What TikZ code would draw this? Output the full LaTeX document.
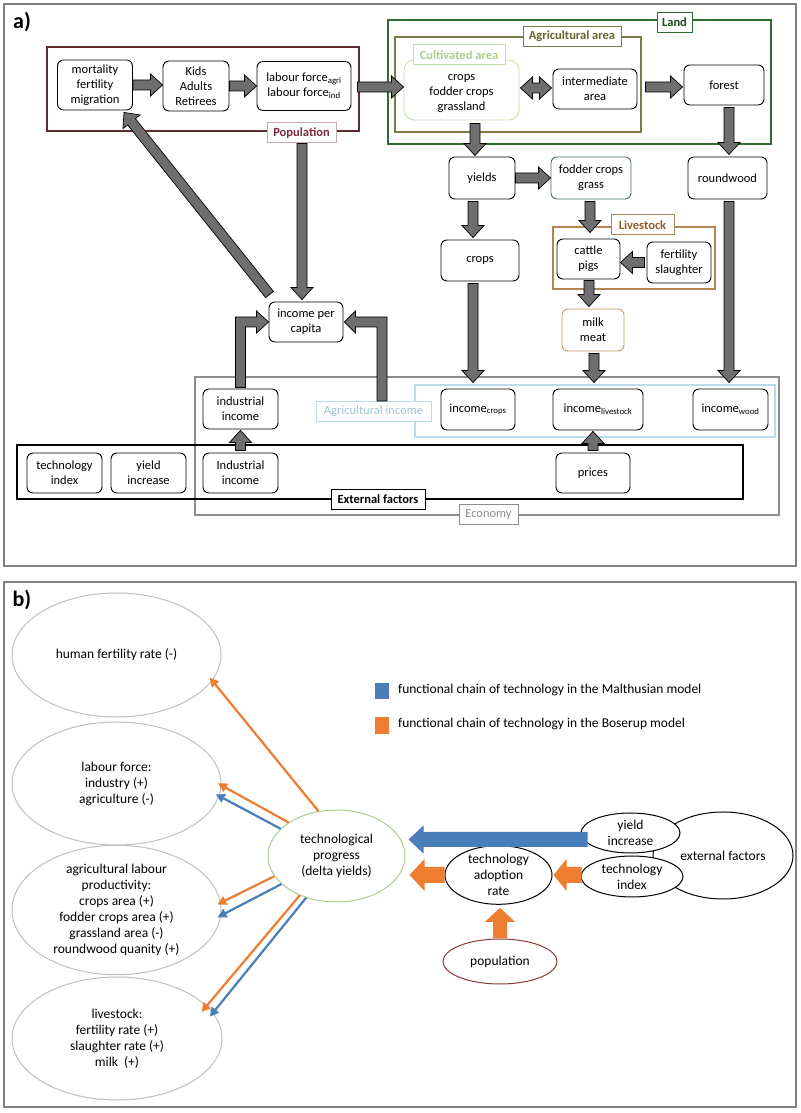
\documentclass[tikz,border=0pt]{standalone}
\usepackage{fontspec}
\setmainfont{Carlito}
\usetikzlibrary{calc,arrows.meta,shapes.geometric}
\definecolor{arrgray}{HTML}{6E6E6E}
\definecolor{panelc}{HTML}{808080}
\definecolor{popc}{HTML}{5E2B2E}
\definecolor{poplc}{HTML}{C9A9AA}
\definecolor{poptc}{HTML}{7A2E3A}
\definecolor{landc}{HTML}{2E6B2E}
\definecolor{landtc}{HTML}{1E4A1E}
\definecolor{agrc}{HTML}{7B7A48}
\definecolor{agrtc}{HTML}{66652E}
\definecolor{cultc}{HTML}{C6DFAE}
\definecolor{culttc}{HTML}{A9D08E}
\definecolor{fodc}{HTML}{4C7355}
\definecolor{livc}{HTML}{B58455}
\definecolor{livtc}{HTML}{97592A}
\definecolor{milkc}{HTML}{C49A6C}
\definecolor{ecoc}{HTML}{8C8C8C}
\definecolor{aic}{HTML}{B8DCE8}
\definecolor{aitc}{HTML}{9CC4D6}
\definecolor{ellgray}{HTML}{C0C0C0}
\definecolor{tpc}{HTML}{A9CF8C}
\definecolor{bluec}{HTML}{4A7EBB}
\definecolor{orc}{HTML}{ED7D31}
\definecolor{popbc}{HTML}{8E3B3B}

\newcommand\blockarr[6]{%
  \pgfmathsetmacro{\arrhd}{#5-#4}%
  \path[#1] let \p1=#2, \p2=#3,
    \n1={atan2(\y2-\y1,\x2-\x1)},
    \n2={veclen(\x2-\x1,\y2-\y1)-#6}
  in ($(\p1)+(\n1+90:#4pt)$) -- ++(\n1:\n2) -- ++(\n1+90:\arrhd pt) -- (\p2)
     -- ($(\p1)+(\n1:\n2)+(\n1-90:#5pt)$) -- ++(\n1+90:\arrhd pt)
     -- ($(\p1)+(\n1-90:#4pt)$) -- cycle;}
\newcommand\blockdarr[6]{%
  \pgfmathsetmacro{\arrhd}{#5-#4}%
  \path[#1] let \p1=#2, \p2=#3,
    \n1={atan2(\y2-\y1,\x2-\x1)},
    \n2={veclen(\x2-\x1,\y2-\y1)-2*#6}
  in (\p1) -- ($(\p1)+(\n1:#6pt)+(\n1+90:#5pt)$) -- ++(\n1-90:\arrhd pt) -- ++(\n1:\n2)
     -- ++(\n1+90:\arrhd pt) -- (\p2)
     -- ($(\p2)+(\n1+180:#6pt)+(\n1-90:#5pt)$) -- ++(\n1+90:\arrhd pt) -- ++(\n1+180:\n2)
     -- ++(\n1-90:\arrhd pt) -- cycle;}
\newcommand\fatarr[2]{\blockarr{fat}{#1}{#2}{5}{11}{12}}

\tikzset{
  x=1pt, y=1pt,
  box/.style={draw=black, line width=0.9pt, rounded corners=6pt, fill=white, align=center,
    inner sep=0pt, font=\fontsize{12.5}{15}\selectfont},
  grp/.style={line width=1.1pt},
  lab/.style={draw, fill=white, line width=1pt, inner sep=2pt, minimum height=20pt,
    font=\fontsize{12.5}{14}\selectfont\bfseries},
  labn/.style={draw, fill=white, line width=1pt, inner sep=2pt, minimum height=20pt,
    font=\fontsize{12.5}{14}\selectfont},
  fat/.style={fill=arrgray, draw=black, line width=0.7pt, line join=miter},
  ell/.style={ellipse, draw=ellgray, line width=1pt, fill=white, align=center, inner sep=0pt,
    font=\fontsize{13.5}{16}\selectfont},
  ellb/.style={ell, draw=black},
  tharr/.style={line width=2.2pt, -{Triangle[length=9pt,width=9pt]}, shorten >=-4pt},
  panel/.style={draw=panelc, line width=1.2pt},
}

\begin{document}
\begin{tikzpicture}
\useasboundingbox[fill=white] (0,0) rectangle (800,1113);

% ================= panel a =================
\draw[panel] (4,1109) rectangle (796,547);
\node[font=\fontsize{22}{22}\selectfont\bfseries] (la) at (22,1091) {a)};

% groups
\draw[grp, draw=popc] (47,1066) rectangle (359,982);
\draw[draw=landc, line width=1.3pt] (388,1093) rectangle (771,969);
\draw[grp, draw=agrc] (395,1076) rectangle (641,981);
\draw[grp, draw=livc] (553,886) rectangle (715,824);
\draw[grp, draw=ecoc] (195,736) rectangle (779,598);
\draw[grp, draw=aic] (415,728) rectangle (775,676);
\draw[grp, draw=black] (17,668) rectangle (743,614);

% nodes
\node[box, minimum width=75pt, minimum height=50pt] (mort) at (95,1028) {mortality\\fertility\\migration};
\node[box, minimum width=66pt, minimum height=50pt] (kids) at (196,1027) {Kids\\Adults\\Retirees};
\node[box, minimum width=94pt, minimum height=49pt] (lab) at (304,1027) {labour force\textsubscript{agri}\\labour force\textsubscript{ind}};
\node[box, draw=cultc, rounded corners=10pt, minimum width=115pt, minimum height=60pt] (cult) at (461.5,1023) {};
\node[align=center, inner sep=0pt, font=\fontsize{12.5}{15}\selectfont] (culttext) at ($(cult.center)+(0,-4)$) {crops\\fodder crops\\grassland};
\node[box, minimum width=84pt, minimum height=40pt] (inter) at (595,1024) {intermediate\\area};
\node[box, minimum width=80pt, minimum height=40pt] (forest) at (724,1028) {forest};
\node[box, minimum width=66pt, minimum height=42pt] (yields) at (482,935) {yields};
\node[box, draw=fodc, minimum width=80pt, minimum height=42pt] (fodder) at (591,935) {fodder crops\\grass};
\node[box, minimum width=79pt, minimum height=42pt] (roundwood) at (727.5,935) {roundwood};
\node[box, minimum width=78pt, minimum height=41pt] (crops) at (480,852.5) {crops};
\node[box, minimum width=63pt, minimum height=40pt] (cattle) at (588.5,854) {cattle\\pigs};
\node[box, minimum width=64pt, minimum height=41pt] (fert) at (679,850.5) {fertility\\slaughter};
\node[box, draw=milkc, minimum width=62pt, minimum height=42pt] (milk) at (593,783) {milk\\meat};
\node[box, minimum width=74pt, minimum height=40pt] (ipc) at (306,791) {income per\\capita};
\node[box, minimum width=75pt, minimum height=40pt] (indtop) at (240.5,704) {industrial\\income};
\node[box, minimum width=74pt, minimum height=41pt] (inccrops) at (478,703.5) {income\textsubscript{crops}};
\node[box, minimum width=90pt, minimum height=41pt] (inclive) at (598,703.5) {income\textsubscript{livestock}};
\node[box, minimum width=75pt, minimum height=41pt] (incwood) at (730.5,703.5) {income\textsubscript{wood}};
\node[box, minimum width=75pt, minimum height=40pt] (techidx) at (64.5,640) {technology\\index};
\node[box, minimum width=75pt, minimum height=40pt] (yieldinc) at (148.5,640) {yield\\increase};
\node[box, minimum width=75pt, minimum height=40pt] (indbot) at (240.5,640) {Industrial\\income};
\node[box, minimum width=74pt, minimum height=40pt] (prices) at (593,640) {prices};

% group labels
\node[lab, draw=poplc, text=poptc, minimum width=69pt] (poplab) at (301.5,980) {Population};
\node[lab, draw=landc, text=landtc, minimum width=35pt] (landlab) at (674.5,1090.5) {Land};
\node[lab, draw=agrc, text=agrtc, minimum width=98pt] (agrlab) at (572,1076.5) {Agricultural area};
\node[lab, draw=cultc, text=culttc, minimum width=92pt] (cultlab) at (459,1058) {Cultivated area};
\node[lab, draw=livc, text=livtc, minimum width=63pt] (livlab) at (642.5,888) {Livestock};
\node[labn, draw=ecoc, text=ecoc, minimum width=59pt] (ecolab) at (488.5,598) {Economy};
\node[labn, draw=aic, text=aitc, minimum width=115pt] (ailab) at (373.5,701.5) {Agricultural income};
\node[lab, draw=black, text=black, minimum width=94pt] (extlab) at (378,613.5) {External factors};

% fat arrows
\fatarr{(mort.east)}{(kids.west|-mort.east)}
\fatarr{(kids.east)}{(lab.west|-kids.east)}
\fatarr{($(lab.east)+(6,-1)$)}{($(cult.west)+(0,3)$)}
\blockdarr{fat}{($(cult.east)+(1,2)$)}{($(inter.west)+(-1,1)$)}{5}{11}{12}
\fatarr{($(inter.east)+(8,2)$)}{($(forest.west)+(-1,-2)$)}
\fatarr{($(cult.south)+(13.5,-3)$)}{($(yields.north)+(-7,1)$)}
\fatarr{(yields.east)}{(fodder.west)}
\fatarr{($(forest.south)+(5,-2)$)}{($(roundwood.north)+(1.5,2)$)}
\fatarr{($(yields.south)+(-9,-2)$)}{($(crops.north)+(-7,2)$)}
\fatarr{($(fodder.south)+(-1,-2)$)}{($(cattle.north)+(1.5,6)$)}
\fatarr{($(fert.west)+(-2,0)$)}{(cattle.east|-fert.west)}
\fatarr{($(cattle.south)+(0.5,-1)$)}{($(milk.north)+(-4,2)$)}
\fatarr{($(milk.south)+(1,-2)$)}{($(inclive.north)+(-4,6)$)}
\fatarr{($(crops.south)+(-7,-2)$)}{($(inccrops.north)+(-5,6)$)}
\fatarr{($(roundwood.south)+(1.5,-2)$)}{($(incwood.north)+(-1.5,6)$)}
\fatarr{($(prices.north)+(0,2)$)}{($(inclive.south)+(-5,-1)$)}
\fatarr{($(indbot.north)+(0,2)$)}{($(indtop.south)+(0,-1)$)}
\fatarr{($(poplab.south)+(0.5,0)$)}{($(ipc.north)+(-4,2)$)}
\fatarr{($(ipc.north west)+(1,7)$)}{($(mort.south)+(29,-2)$)}
% elbow arrows
\path[fat] let \p1=(indtop.north), \p2=(ipc.west) in
  (\x1-5pt,\y1+1pt) -- (\x1-5pt,\y2+5pt) -- (\x2-12pt,\y2+5pt) -- (\x2-12pt,\y2+11pt)
  -- (\x2,\y2) -- (\x2-12pt,\y2-11pt) -- (\x2-12pt,\y2-5pt) -- (\x1+5pt,\y2-5pt)
  -- (\x1+5pt,\y1+1pt) -- cycle;
\path[fat] let \p1=($(ailab.north)+(8.5,0)$), \p2=(ipc.east) in
  (\x1+5pt,\y1) -- (\x1+5pt,\y2+5pt) -- (\x2+12pt,\y2+5pt) -- (\x2+12pt,\y2+11pt)
  -- (\x2+1pt,\y2) -- (\x2+12pt,\y2-11pt) -- (\x2+12pt,\y2-5pt) -- (\x1-5pt,\y2-5pt)
  -- (\x1-5pt,\y1) -- cycle;

% ================= panel b =================
\draw[panel] (4,531) rectangle (796,6);
\node[font=\fontsize{22}{22}\selectfont\bfseries] (lb) at (22,513) {b)};

\node[ell, minimum width=209pt, minimum height=124pt] (hf) at (116.5,458) {human fertility rate (-)};
\node[ell, minimum width=209pt, minimum height=123pt] (lf) at (116.5,329.5) {labour force:\\industry (+)\\agriculture (-)};
\node[ell, minimum width=209pt, minimum height=124pt] (ap) at (116.5,203) {agricultural labour\\productivity:\\crops area (+)\\fodder crops area (+)\\grassland area (-)\\roundwood quanity (+)};
\node[ell, minimum width=210pt, minimum height=123pt] (ls) at (117,74.5) {livestock:\\fertility rate (+)\\slaughter rate (+)\\milk~ (+)};
\node[ell, draw=tpc, minimum width=137pt, minimum height=92pt] (tp) at (336.5,257) {technological\\progress\\(delta yields)};
\node[ellb, minimum width=140pt, minimum height=87pt] (ext) at (723,257.5) {external factors};
\node[ellb, minimum width=99pt, minimum height=40pt] (yi) at (630.5,280) {yield\\increase};
\node[ellb, minimum width=102pt, minimum height=41pt] (ti) at (632,236.5) {technology\\index};
\node[ellb, minimum width=107pt, minimum height=56pt] (tar) at (498.5,238) {technology\\adoption\\rate};
\node[ellb, draw=popbc, minimum width=114pt, minimum height=45pt] (popb) at (500,151.5) {population};

% legend
\node[fill=bluec, minimum width=14pt, minimum height=16pt, inner sep=0pt] (sq1) at (382,422) {};
\node[fill=orc, minimum width=14pt, minimum height=17pt, inner sep=0pt] (sq2) at (382,387.5) {};
\node[anchor=west, font=\fontsize{13.5}{16}\selectfont, inner sep=0pt] (leg1) at (398,423) {functional chain of technology in the Malthusian model};
\node[anchor=west, font=\fontsize{13.5}{16}\selectfont, inner sep=0pt] (leg2) at (398,389) {functional chain of technology in the Boserup model};

% block arrows
\coordinate (bs) at ($(yi.west)+(7,-6.5)$);
\blockarr{fill=bluec}{(bs)}{($(tp.east|-bs)+(3,0)$)}{7.5}{14}{15}
\blockarr{fill=orc}{($(ti.west)+(1,1.5)$)}{($(tar.east)+(1,0)$)}{8}{16}{13}
\blockarr{fill=orc}{(tar.west)}{($(tp.east|-tar.west)+(4,0)$)}{8}{16}{15}
\blockarr{fill=orc}{(popb.north)}{($(tar.south)+(1.5,-3)$)}{7}{15}{14}

% thin arrows
\draw[tharr, orc] (tp.112) -- (hf.-15);
\draw[tharr, orc] (tp.145) -- (lf.-1.3);
\draw[tharr, bluec] (tp.154) -- (lf.-7);
\draw[tharr, orc] (tp.198) -- (ap.4);
\draw[tharr, bluec] (tp.207) -- (ap.-3);
\draw[tharr, orc, shorten >=-8pt] (tp.227) -- (ls.20);
\draw[tharr, bluec, shorten >=-5pt] (tp.234) -- (ls.15);
\end{tikzpicture}
\end{document}
